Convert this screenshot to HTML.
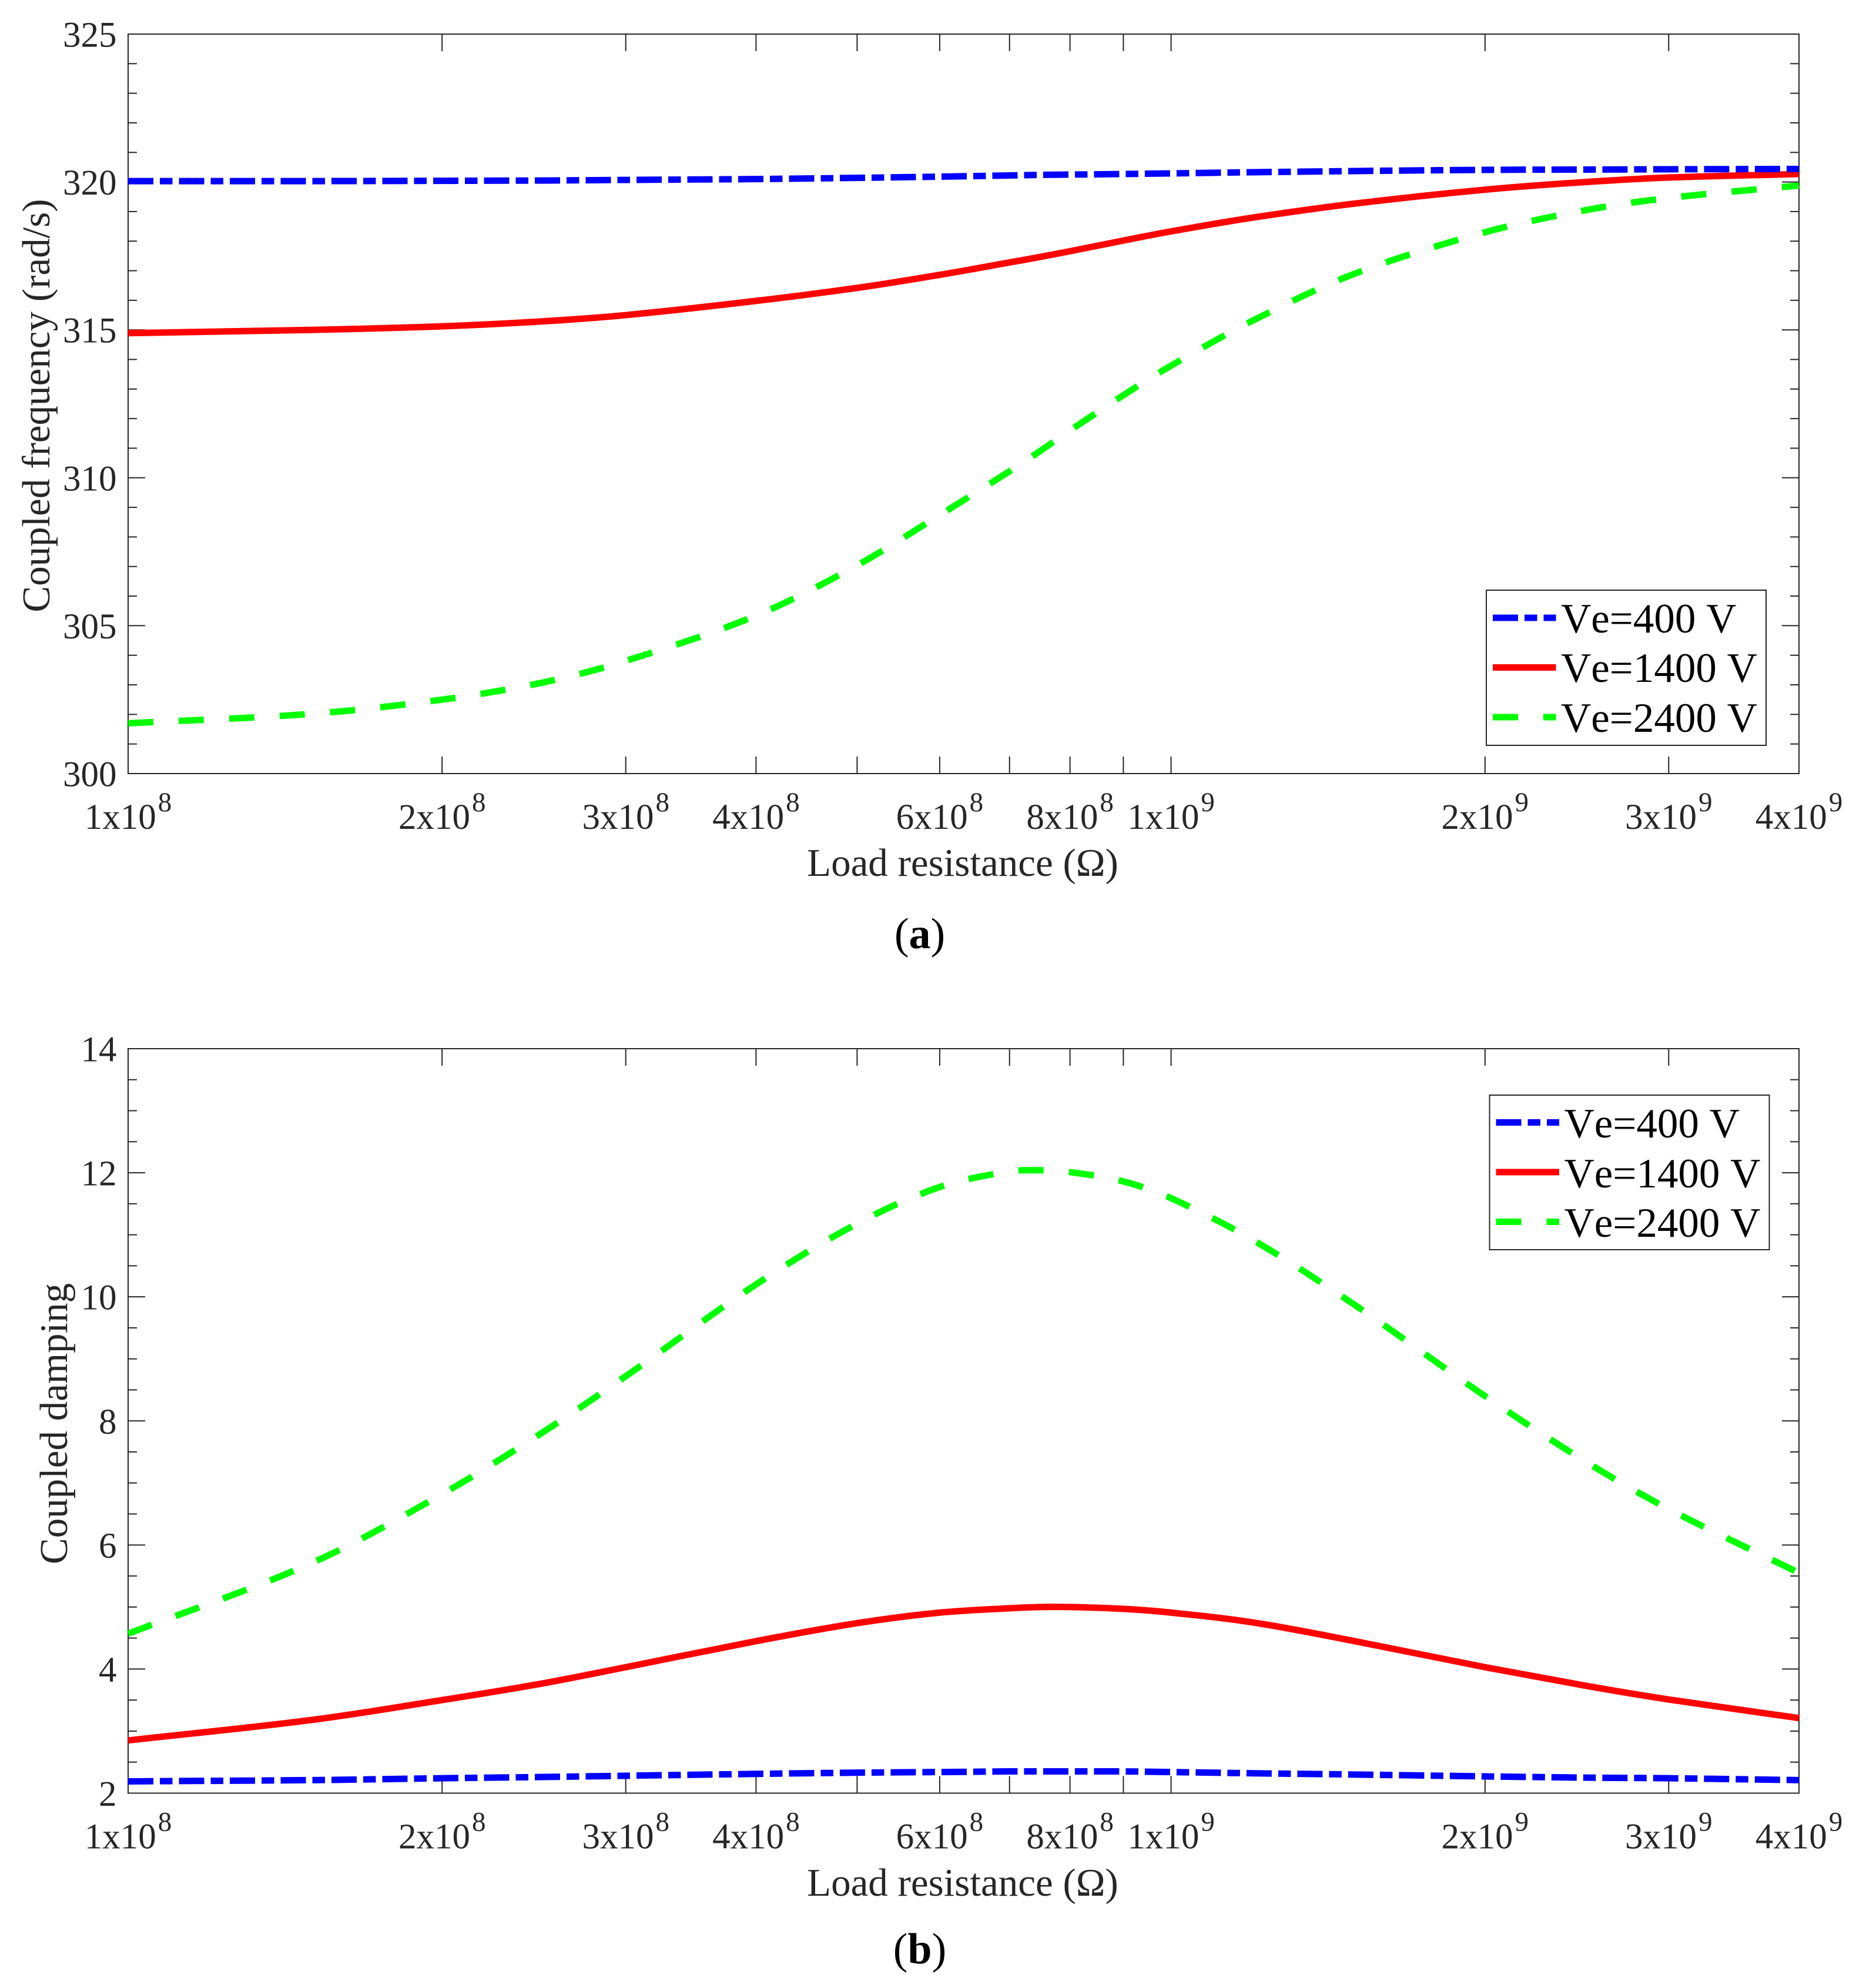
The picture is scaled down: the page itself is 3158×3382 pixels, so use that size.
<!DOCTYPE html>
<html lang="en">
<head>
<meta charset="utf-8">
<title>Coupled frequency and damping versus load resistance</title>
<style>
html,body{margin:0;padding:0;background:#fff;}
svg{display:block;}
text{font-family:"Liberation Serif","Times New Roman",serif;}
.tick-label{font-size:61px;fill:#262626;}
.axis-title{font-size:67px;fill:#262626;}
.legend-text{font-size:71px;fill:#000;font-kerning:none;}
.caption{font-size:74px;fill:#000;}
</style>
</head>
<body>
<svg id="figure" xmlns="http://www.w3.org/2000/svg" width="3158" height="3382" viewBox="0 0 3158 3382">
  <rect x="0" y="0" width="3158" height="3382" fill="#fff"/>

  <g id="panel-a">
    <g id="panel-a-axes"></g>
    <g id="panel-a-series"></g>
    <text class="axis-title" x="1638" y="1490" text-anchor="middle">Load resistance (Ω)</text>
    <text class="axis-title" transform="translate(84 690) rotate(-90)" text-anchor="middle">Coupled frequency (rad/s)</text>
    <g>
      <rect x="2529" y="1004" width="476" height="264" fill="#fff" stroke="#262626" stroke-width="2"/>
      <line x1="2540" x2="2647.5" y1="1051" y2="1051" stroke="#0000ff" stroke-width="11" stroke-dasharray="43 11 21.5 11"/>
      <text class="legend-text" x="2656" y="1076">Ve=400 V</text>
      <line x1="2540" x2="2647.5" y1="1135.5" y2="1135.5" stroke="#ff0000" stroke-width="11"/>
      <text class="legend-text" x="2656" y="1160">Ve=1400 V</text>
      <line x1="2540" x2="2647.5" y1="1220" y2="1220" stroke="#00ff00" stroke-width="11" stroke-dasharray="43 43"/>
      <text class="legend-text" x="2656" y="1245">Ve=2400 V</text>
    </g>
    <text class="caption" x="1565" y="1613" text-anchor="middle">(<tspan font-weight="bold">a</tspan>)</text>
  </g>

  <g id="panel-b">
    <g id="panel-b-axes"></g>
    <g id="panel-b-series"></g>
    <text class="axis-title" x="1638" y="3225" text-anchor="middle">Load resistance (Ω)</text>
    <text class="axis-title" transform="translate(114 2422) rotate(-90)" text-anchor="middle">Coupled damping</text>
    <g>
      <rect x="2534.5" y="1863" width="476" height="263" fill="#fff" stroke="#262626" stroke-width="2"/>
      <line x1="2545.5" x2="2653" y1="1909.5" y2="1909.5" stroke="#0000ff" stroke-width="11" stroke-dasharray="43 11 21.5 11"/>
      <text class="legend-text" x="2661.5" y="1935">Ve=400 V</text>
      <line x1="2545.5" x2="2653" y1="1994" y2="1994" stroke="#ff0000" stroke-width="11"/>
      <text class="legend-text" x="2661.5" y="2020">Ve=1400 V</text>
      <line x1="2545.5" x2="2653" y1="2078.5" y2="2078.5" stroke="#00ff00" stroke-width="11" stroke-dasharray="43 43"/>
      <text class="legend-text" x="2661.5" y="2104">Ve=2400 V</text>
    </g>
    <text class="caption" x="1565" y="3340" text-anchor="middle">(<tspan font-weight="bold">b</tspan>)</text>
  </g>
</svg>

<script>
// ---- Data ----
const loadResistance = [1e8,1.5e8,2e8,2.5e8,3e8,4e8,5e8,6e8,7e8,7.5e8,8e8,9e8,1e9,1.2e9,1.5e9,2e9,2.5e9,3e9,4e9];

const frequency400  = [320.03,320.03,320.04,320.05,320.07,320.10,320.14,320.18,320.22,320.24,320.25,320.27,320.29,320.33,320.37,320.41,320.42,320.43,320.44];
const frequency1400 = [314.89,315.00,315.12,315.29,315.50,315.98,316.42,316.86,317.28,317.47,317.66,318.02,318.33,318.80,319.27,319.74,320.00,320.15,320.27];
const frequency2400 = [301.70,302.02,302.50,303.08,303.81,305.34,307.04,308.74,310.22,310.92,311.60,312.79,313.79,315.33,316.90,318.30,319.05,319.46,319.88];

const damping400  = [2.19,2.21,2.24,2.26,2.28,2.31,2.33,2.34,2.35,2.35,2.35,2.35,2.34,2.32,2.30,2.27,2.25,2.24,2.21];
const damping1400 = [2.85,3.18,3.50,3.77,4.03,4.45,4.74,4.91,4.98,5.00,5.00,4.97,4.91,4.75,4.45,4.03,3.73,3.51,3.21];
const damping2400 = [4.57,5.71,6.82,7.82,8.72,10.20,11.18,11.77,12.02,12.04,12.01,11.86,11.59,10.91,9.87,8.40,7.34,6.58,5.55];

const xMin = 1e8;
const xMax = 4e9;
const xTickValues = [1e8,2e8,3e8,4e8,5e8,6e8,7e8,8e8,9e8,1e9,2e9,3e9,4e9];
const xLabelValues = [1e8,2e8,3e8,4e8,6e8,8e8,1e9,2e9,3e9,4e9];
const xLabelMantissas = ['1x10','2x10','3x10','4x10','6x10','8x10','1x10','2x10','3x10','4x10'];
const xLabelExponents = ['8','8','8','8','8','8','9','9','9','9'];

const frequencyMajorTicks = [300,305,310,315,320,325];
const frequencyTickLabels = ['300','305','310','315','320','325'];
const frequencyMinorTicks = [301,302,303,304,306,307,308,309,311,312,313,314,316,317,318,319,321,322,323,324];

const dampingMajorTicks = [2,4,6,8,10,12,14];
const dampingTickLabels = ['2','4','6','8','10','12','14'];
const dampingMinorTicks = [2.5,3,3.5,4.5,5,5.5,6.5,7,7.5,8.5,9,9.5,10.5,11,11.5,12.5,13,13.5];

// ---- Drawing ----
const SVG_NS = 'http://www.w3.org/2000/svg';
const AXIS_COLOR = '#262626';

function makeLine(parent, name, x1, y1, x2, y2) {
  const el = document.createElementNS(SVG_NS, 'line');
  
  
  el.setAttribute('x1', x1);
  el.setAttribute('y1', y1);
  el.setAttribute('x2', x2);
  el.setAttribute('y2', y2);
  el.setAttribute('stroke', AXIS_COLOR);
  el.setAttribute('stroke-width', '2');
  parent.appendChild(el);
  return el;
}

function smoothPath(px, py) {
  const n = px.length;
  const slope = [];
  for (let i = 0; i < n; i++) {
    const a = Math.max(0, i - 1);
    const b = Math.min(n - 1, i + 1);
    slope.push((py[b] - py[a]) / (px[b] - px[a]));
  }
  let d = 'M' + px[0].toFixed(2) + ' ' + py[0].toFixed(2);
  for (let i = 0; i < n - 1; i++) {
    const h = (px[i + 1] - px[i]) / 3;
    d += 'C' + (px[i] + h).toFixed(2) + ' ' + (py[i] + slope[i] * h).toFixed(2) +
         ' ' + (px[i + 1] - h).toFixed(2) + ' ' + (py[i + 1] - slope[i + 1] * h).toFixed(2) +
         ' ' + px[i + 1].toFixed(2) + ' ' + py[i + 1].toFixed(2);
  }
  return d;
}

function drawPanel(cfg) {
  const left = 218, right = 3061;
  const top = cfg.top, bottom = cfg.bottom;
  const xScale = function (v) {
    return left + (right - left) * Math.log10(v / xMin) / Math.log10(xMax / xMin);
  };
  const yScale = function (v) {
    return bottom - (bottom - top) * (v - cfg.yMin) / (cfg.yMax - cfg.yMin);
  };
  const axes = document.getElementById(cfg.id + '-axes');
  const series = document.getElementById(cfg.id + '-series');

  const frame = document.createElementNS(SVG_NS, 'rect');
  
  
  frame.setAttribute('x', left);
  frame.setAttribute('y', top);
  frame.setAttribute('width', right - left);
  frame.setAttribute('height', bottom - top);
  frame.setAttribute('fill', 'none');
  frame.setAttribute('stroke', AXIS_COLOR);
  frame.setAttribute('stroke-width', '2');
  axes.appendChild(frame);

  xTickValues.forEach(function (v) {
    const x = xScale(v);
    makeLine(axes, 'x-tick-bottom', x, bottom, x, bottom - 29);
    makeLine(axes, 'x-tick-top', x, top, x, top + 29);
  });

  xLabelValues.forEach(function (v, i) {
    const t = document.createElementNS(SVG_NS, 'text');
    
    
    t.setAttribute('class', 'tick-label');
    t.setAttribute('x', xScale(v));
    t.setAttribute('y', bottom + cfg.xLabelOffset);
    t.setAttribute('text-anchor', 'middle');
    t.appendChild(document.createTextNode(xLabelMantissas[i]));
    const sup = document.createElementNS(SVG_NS, 'tspan');
    
    
    sup.setAttribute('font-size', '47');
    sup.setAttribute('dx', '3');
    sup.setAttribute('dy', '-30');
    sup.textContent = xLabelExponents[i];
    t.appendChild(sup);
    axes.appendChild(t);
  });

  cfg.majorTicks.forEach(function (v, i) {
    const y = yScale(v);
    makeLine(axes, 'y-tick-major-left', left, y, left + 29, y);
    makeLine(axes, 'y-tick-major-right', right, y, right - 29, y);
    const t = document.createElementNS(SVG_NS, 'text');
    
    
    t.setAttribute('class', 'tick-label');
    t.setAttribute('x', 198.5);
    t.setAttribute('y', y + 21.5);
    t.setAttribute('text-anchor', 'end');
    t.textContent = cfg.tickLabels[i];
    axes.appendChild(t);
  });

  cfg.minorTicks.forEach(function (v) {
    const y = yScale(v);
    makeLine(axes, 'y-tick-minor-left', left, y, left + 15, y);
    makeLine(axes, 'y-tick-minor-right', right, y, right - 15, y);
  });

  cfg.lines.forEach(function (s) {
    const path = document.createElementNS(SVG_NS, 'path');
    
    
    path.setAttribute('d', smoothPath(loadResistance.map(xScale), s.values.map(yScale)));
    path.setAttribute('fill', 'none');
    path.setAttribute('stroke', s.color);
    path.setAttribute('stroke-width', '11');
    path.setAttribute('stroke-linejoin', 'round');
    if (s.dash) path.setAttribute('stroke-dasharray', s.dash);
    series.appendChild(path);
  });
}

drawPanel({
  id: 'panel-a', top: 58, bottom: 1316, yMin: 300, yMax: 325, xLabelOffset: 94,
  majorTicks: frequencyMajorTicks, tickLabels: frequencyTickLabels, minorTicks: frequencyMinorTicks,
  lines: [
    { name: 'series-frequency-2400v', values: frequency2400, color: '#00ff00', dash: '43 43' },
    { name: 'series-frequency-1400v', values: frequency1400, color: '#ff0000' },
    { name: 'series-frequency-400v', values: frequency400, color: '#0000ff', dash: '43 11 21.5 11' }
  ]
});

drawPanel({
  id: 'panel-b', top: 1784, bottom: 3050.5, yMin: 2, yMax: 14, xLabelOffset: 94,
  majorTicks: dampingMajorTicks, tickLabels: dampingTickLabels, minorTicks: dampingMinorTicks,
  lines: [
    { name: 'series-damping-2400v', values: damping2400, color: '#00ff00', dash: '43 43' },
    { name: 'series-damping-1400v', values: damping1400, color: '#ff0000' },
    { name: 'series-damping-400v', values: damping400, color: '#0000ff', dash: '43 11 21.5 11' }
  ]
});
</script>
</body>
</html>
